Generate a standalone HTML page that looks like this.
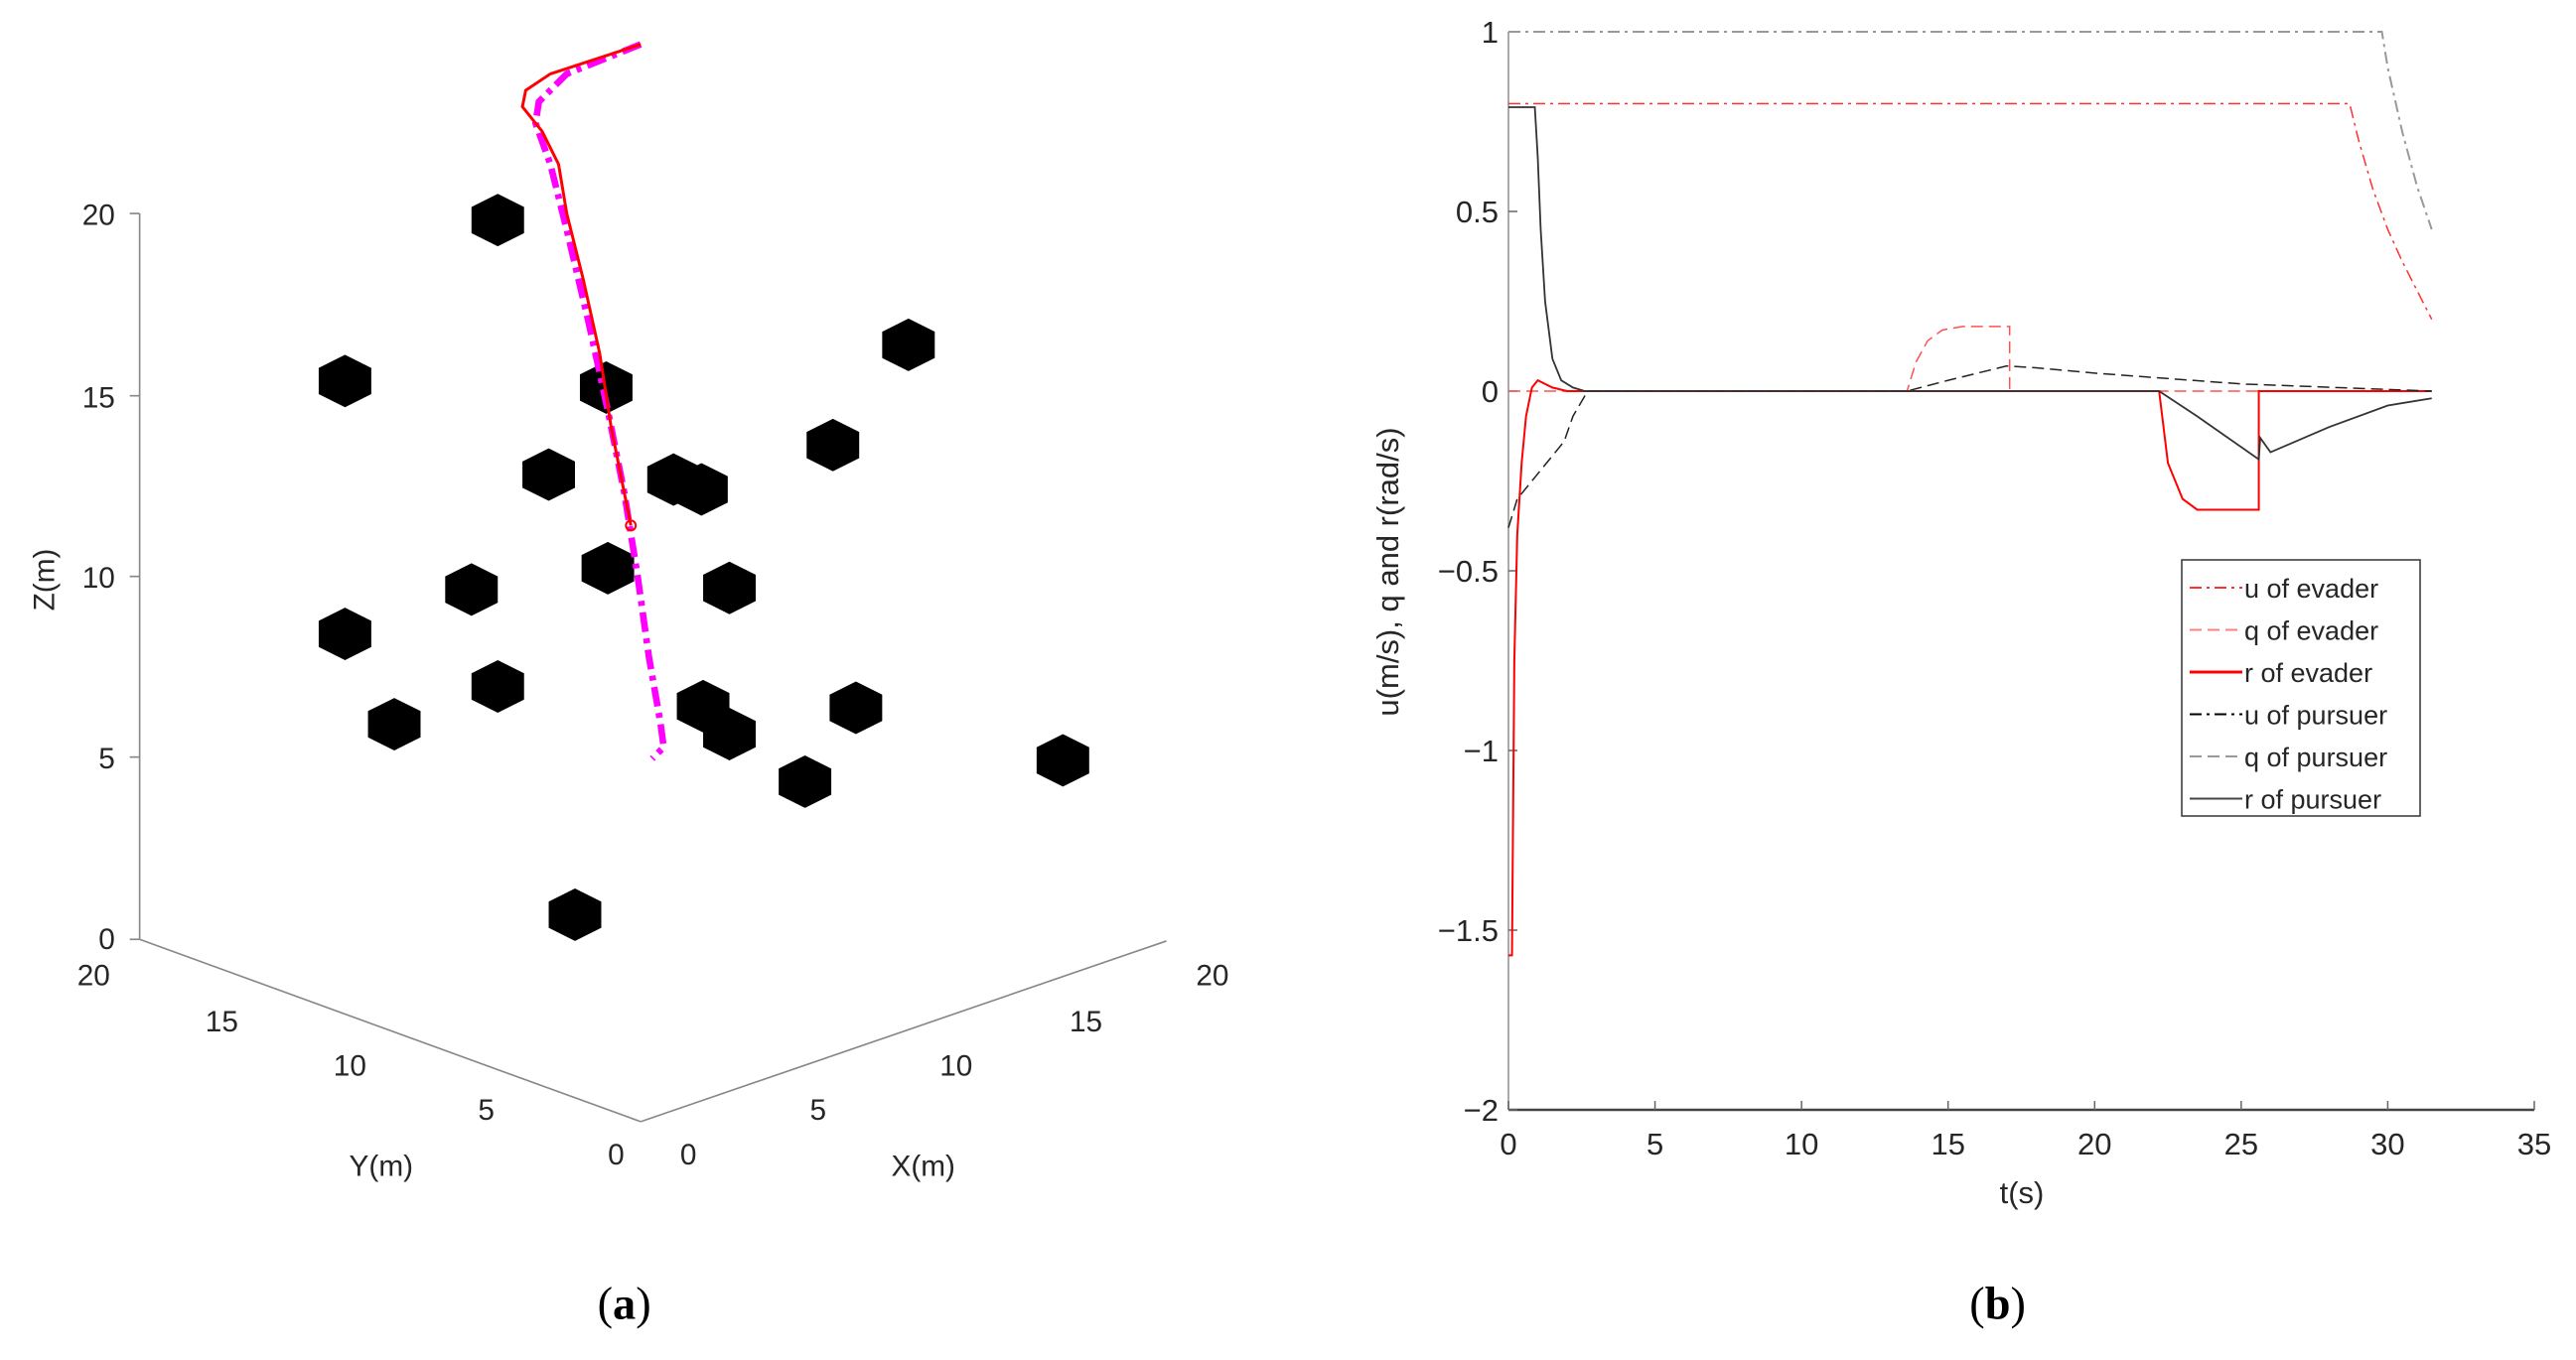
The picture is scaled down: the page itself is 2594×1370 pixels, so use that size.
<!DOCTYPE html>
<html><head><meta charset="utf-8"><style>
html,body{margin:0;padding:0;background:#fff;}
svg{display:block;font-family:"Liberation Sans",sans-serif;}
</style></head><body>
<svg id="root" width="2594" height="1370" viewBox="0 0 2594 1370">
<g transform="scale(1.6543)">
  <g stroke="#888" stroke-width="1" fill="none">
    <line x1="85" y1="130" x2="85" y2="572"/>
    <line x1="85" y1="572" x2="390" y2="683"/>
    <line x1="390" y1="683" x2="710" y2="573"/>
    <g>
      <line x1="79" y1="130" x2="85" y2="130"/><line x1="79" y1="241" x2="85" y2="241"/><line x1="79" y1="351" x2="85" y2="351"/><line x1="79" y1="461" x2="85" y2="461"/><line x1="79" y1="572" x2="85" y2="572"/>
    </g>
  </g>
  <g font-size="18" fill="#262626">
    <g text-anchor="end">
      <text x="70" y="137">20</text><text x="70" y="248">15</text><text x="70" y="358">10</text><text x="70" y="468">5</text><text x="70" y="578">0</text>
    </g>
    <g text-anchor="middle">
      <text x="57" y="600">20</text><text x="135" y="628">15</text><text x="213" y="655">10</text><text x="296" y="682">5</text><text x="375" y="709">0</text>
      <text x="419" y="709">0</text><text x="498" y="682">5</text><text x="582" y="655">10</text><text x="661" y="628">15</text><text x="738" y="600">20</text>
    </g>
    <text x="232" y="716" text-anchor="middle">Y(m)</text>
    <text x="562" y="716" text-anchor="middle">X(m)</text>
    <text x="0" y="0" text-anchor="middle" transform="translate(33,353) rotate(-90)">Z(m)</text>
  </g>
  <g id="obstacles" fill="#000"></g>
  <polyline fill="none" stroke="#ff00ff" stroke-width="4" stroke-dasharray="12,4,3,4" points="390,27 345,45 328,62 326,75 335,100 345,140 358,195 370,250 380,300 388,350 395,400 402,440 404,455 397,462"/>
  <polyline fill="none" stroke="#ff0000" stroke-width="1.8" points="390,27 335,45 320,55 318,65 330,80 340,100 345,130 355,170 365,215 372,260 378,290 384,320"/>
  <circle cx="384" cy="320" r="3" fill="none" stroke="#ff0000" stroke-width="1.2"/>
  <text x="380" y="803" text-anchor="middle" font-family="Liberation Serif, serif" font-size="28" fill="#000">(<tspan font-weight="bold">a</tspan>)</text>
  <text x="1216" y="803" text-anchor="middle" font-family="Liberation Serif, serif" font-size="28" fill="#000">(<tspan font-weight="bold">b</tspan>)</text>
</g>
<g id="chart"></g>
</svg>
<script>
// obstacle centers (3D panel, projected screen coordinates of hexagon markers)
const obstacleX=[303,210,369,553,507,334,410,427,444,370,287,210,303,240,428,444,521,490,647,350];
const obstacleY=[134,232,236,210,271,289,292,298,358,346,359,386,418,441,430,447,431,476,463,557];
const NS='http://www.w3.org/2000/svg';
const og=document.getElementById('obstacles');
obstacleX.forEach((cx,i)=>{
  const cy=obstacleY[i];const p=document.createElementNS(NS,'polygon');
  const w=16,h=16;
  p.setAttribute('points',[[cx,cy-h],[cx+w,cy-h/2],[cx+w,cy+h/2],[cx,cy+h],[cx-w,cy+h/2],[cx-w,cy-h/2]].map(a=>a.join(',')).join(' '));
  
  
  og.appendChild(p);
});

// Panel b data
const xTicks=[0,5,10,15,20,25,30,35];
const yTicks=[-2,-1.5,-1,-0.5,0,0.5,1];
const yTickLabels=['\u22122','\u22121.5','\u22121','\u22120.5','0','0.5','1'];
const uEvaderT=[0,28.7,29,29.5,30,30.5,31,31.5];
const uEvaderV=[0.8,0.8,0.7,0.56,0.45,0.36,0.28,0.2];
const uPursuerT=[0,29.8,30,30.5,31,31.5];
const uPursuerV=[1,1,0.9,0.72,0.57,0.45];
const qEvaderT=[0,13.6,13.9,14.3,14.8,15.5,17.1,17.1,31.5];
const qEvaderV=[0,0,0.08,0.14,0.17,0.18,0.18,0,0];
const qPursuerT=[0,0.3,0.8,1.3,1.9,2.2,2.7,13.6,15,17,18,20,25,31.5];
const qPursuerV=[-0.38,-0.3,-0.25,-0.2,-0.14,-0.07,0,0,0.03,0.07,0.065,0.05,0.02,0];
const rEvaderT=[0,0.12,0.2,0.3,0.45,0.6,0.8,1,1.5,2,22.2,22.5,23,23.5,25.6,25.6,31.5];
const rEvaderV=[-1.57,-1.57,-0.75,-0.4,-0.2,-0.07,0.01,0.03,0.01,0,0,-0.2,-0.3,-0.33,-0.33,0,0];
const rPursuerT=[0,0.9,1.0,1.1,1.25,1.5,1.8,2.2,2.6,22.2,23.5,25.6,25.65,26,28,30,31.5];
const rPursuerV=[0.79,0.79,0.65,0.45,0.25,0.09,0.03,0.01,0,0,-0.07,-0.19,-0.13,-0.17,-0.1,-0.04,-0.02];

const X0=1519,X1=2552,Y0=1118,Y1=32;
const sx=t=>X0+(t-0)/(35-0)*(X1-X0);
const sy=v=>Y0-(v+2)/(3)*(Y0-Y1);
const chart=document.getElementById('chart');
function el(tag,attrs,parent){const e=document.createElementNS(NS,tag);for(const k in attrs)e.setAttribute(k,attrs[k]);(parent||chart).appendChild(e);return e;}

// axes
const ax=el('g',{});


const la=el('line',{x1:X0,y1:Y1,x2:X0,y2:Y0,stroke:'#aaa','stroke-width':2},ax);


const lb=el('line',{x1:X0,y1:Y0,x2:X1,y2:Y0,stroke:'#444','stroke-width':2.5},ax);


xTicks.forEach(t=>{
  el('line',{x1:sx(t),y1:Y0,x2:sx(t),y2:Y0-9,stroke:'#666','stroke-width':1.5},ax);
  const tx=el('text',{x:sx(t),y:Y0+45,'text-anchor':'middle','font-size':31,fill:'#262626'},ax);
  tx.textContent=t;
  
  
});
yTicks.forEach((v,i)=>{
  el('line',{x1:X0,y1:sy(v),x2:X0+9,y2:sy(v),stroke:'#666','stroke-width':1.5},ax);
  const tx=el('text',{x:X0-10,y:sy(v)+11,'text-anchor':'end','font-size':31,fill:'#262626'},ax);
  tx.textContent=yTickLabels[i];
  
  
});
const xt=el('text',{x:2036,y:1212,'text-anchor':'middle','font-size':31,fill:'#262626'});
xt.textContent='t(s)';


const yt=el('text',{x:0,y:0,transform:'translate(1408,576) rotate(-90)','text-anchor':'middle','font-size':31,fill:'#262626'});
yt.textContent='u(m/s), q and r(rad/s)';



const series=[
 {T:uEvaderT,V:uEvaderV,c:'#ff3030',d:'12,5,3,5',w:1.5,n:'u of evader'},
 {T:qEvaderT,V:qEvaderV,c:'#ff5050',d:'12,6',w:1.5,n:'q of evader'},
 {T:rEvaderT,V:rEvaderV,c:'#ff0000',d:'',w:2,n:'r of evader'},
 {T:uPursuerT,V:uPursuerV,c:'#999',d:'12,5,3,5',w:2,n:'u of pursuer'},
 {T:qPursuerT,V:qPursuerV,c:'#222',d:'12,6',w:1.5,n:'q of pursuer'},
 {T:rPursuerT,V:rPursuerV,c:'#333',d:'',w:1.8,n:'r of pursuer'}
];
const legendColors=['#ff3030','#ff8080','#ff0000','#000','#999','#444'];
series.forEach(s=>{
  const p=el('polyline',{fill:'none',stroke:s.c,'stroke-width':s.w,'stroke-dasharray':s.d,points:s.T.map((t,i)=>sx(t)+','+sy(s.V[i])).join(' ')});
  
  
});
// legend
const lg=el('g',{});


el('rect',{x:2197,y:564,width:240,height:258,fill:'#fff',stroke:'#333','stroke-width':1.5},lg);
series.forEach((s,i)=>{
  const y=592+i*42.5;
  const g=el('g',{},lg);
  
  
  el('line',{x1:2205,y1:y,x2:2258,y2:y,stroke:legendColors[i],'stroke-width':i==2?3:2,'stroke-dasharray':s.d},g);
  const t=el('text',{x:2260,y:y+10,'font-size':27,fill:'#262626'},g);
  t.textContent=s.n;
});
</script>
</body></html>
